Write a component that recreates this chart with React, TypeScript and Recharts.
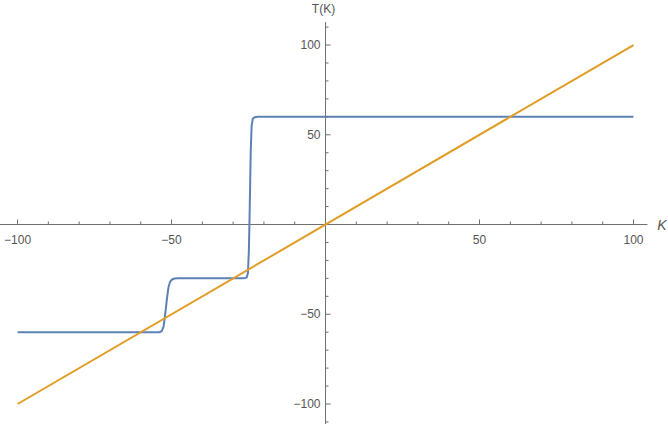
import React from "react";
import { ComposedChart, Line, Scatter, XAxis, YAxis, ReferenceLine } from "recharts";

// Blue step curve T(K)
const blueK = [-100, -54, -53.2, -52.6, -52.2, -51.8, -51.4, -51, -50.5, -49.8, -49, -48, -26.5, -25.6, -25.2, -24.9, -24.6, -24.3, -24.0, -23.6, -23, -22, 100];
const blueT = [-60, -60, -59.5, -57, -52, -46, -40, -35, -32, -30.6, -30.1, -30, -30, -29.5, -27, -15, 10, 40, 55, 59, 59.8, 60, 60];

// Orange line T = K
const orangeK = [-100, 100];
const orangeT = [-100, 100];

const xMajor = [-100, -50, 50, 100];
const xMinor = [-90, -80, -70, -60, -40, -30, -20, -10, 10, 20, 30, 40, 60, 70, 80, 90];
const yMajor = [-100, -50, 50, 100];
const yMinor = [-110, -90, -80, -70, -60, -40, -30, -20, -10, 10, 20, 30, 40, 60, 70, 80, 90, 110];

const xDomain = [-105.7, 111.2];
const yDomain = [-111.7, 125.1];
const xAxisExtent = [-105.7, 104.5];
const yAxisExtent = [-111.1, 112.8];

const blueData = blueK.map((k, i) => ({ x: k, y: blueT[i] }));
const orangeData = orangeK.map((k, i) => ({ x: k, y: orangeT[i] }));
const xTickData = [
  ...xMajor.map((v) => ({ x: v, y: 0, major: true })),
  ...xMinor.map((v) => ({ x: v, y: 0, major: false })),
];
const yTickData = [
  ...yMajor.map((v) => ({ x: 0, y: v, major: true })),
  ...yMinor.map((v) => ({ x: 0, y: v, major: false })),
];

const AXIS = "#6e6e6e";
const LABEL = "#555555";
const FONT = "'Liberation Sans', Arial, sans-serif";

const fmt = (v: number) => (v < 0 ? "\u2212" + Math.abs(v) : String(v));

const XTick = (props: any) => {
  const { cx, cy, payload } = props;
  const len = payload.major ? 5 : 3;
  return (
    <g>
      <line x1={cx} y1={cy} x2={cx} y2={cy - len} stroke={AXIS} strokeWidth={1} />
      {payload.major && (
        <text x={cx} y={cy + 19} textAnchor="middle" fontSize={12} fill={LABEL} fontFamily={FONT}>
          {fmt(payload.x)}
        </text>
      )}
    </g>
  );
};

const YTick = (props: any) => {
  const { cx, cy, payload } = props;
  const len = payload.major ? 5 : 3;
  return (
    <g>
      <line x1={cx} y1={cy} x2={cx + len} y2={cy} stroke={AXIS} strokeWidth={1} />
      {payload.major && (
        <text x={cx - 5} y={cy + 4} textAnchor="end" fontSize={12} fill={LABEL} fontFamily={FONT}>
          {fmt(payload.y)}
        </text>
      )}
    </g>
  );
};

const XLabel = (props: any) => {
  const { viewBox } = props;
  return (
    <text x={viewBox.x + viewBox.width + 10} y={viewBox.y + 5} fontSize={14} fontStyle="italic" fill={LABEL} fontFamily={FONT}>
      K
    </text>
  );
};

const YLabel = (props: any) => {
  const { viewBox } = props;
  return (
    <text x={viewBox.x - 2} y={viewBox.y - 9} textAnchor="middle" fontSize={12} fill={LABEL} fontFamily={FONT}>
      T(K)
    </text>
  );
};

export default function App() {
  return (
    <div style={{ position: "absolute", left: 0, top: 0, width: 668, height: 425, background: "#fff" }}>
      <ComposedChart width={668} height={425} margin={{ top: 0, right: 0, bottom: 0, left: 0 }}>
        <XAxis type="number" dataKey="x" domain={xDomain} hide allowDataOverflow />
        <YAxis type="number" dataKey="y" domain={yDomain} hide allowDataOverflow />
        <ReferenceLine
          segment={[{ x: xAxisExtent[0], y: 0 }, { x: xAxisExtent[1], y: 0 }]}
          stroke={AXIS}
          strokeWidth={1}
          ifOverflow="visible"
          label={<XLabel />}
        />
        <ReferenceLine
          segment={[{ x: 0, y: yAxisExtent[0] }, { x: 0, y: yAxisExtent[1] }]}
          stroke={AXIS}
          strokeWidth={1}
          ifOverflow="visible"
        />
        <ReferenceLine
          segment={[{ x: 0, y: yAxisExtent[1] }, { x: 0, y: yAxisExtent[1] }]}
          stroke="none"
          ifOverflow="visible"
          label={<YLabel />}
        />
        <Scatter data={xTickData} dataKey="y" shape={<XTick />} isAnimationActive={false} />
        <Scatter data={yTickData} dataKey="y" shape={<YTick />} isAnimationActive={false} />
        <Line data={blueData} dataKey="y" type="linear" dot={false} activeDot={false} stroke="#5E81B5" strokeWidth={2} isAnimationActive={false} />
        <Line data={orangeData} dataKey="y" type="linear" dot={false} activeDot={false} stroke="#E19C24" strokeWidth={2} isAnimationActive={false} />
      </ComposedChart>
    </div>
  );
}
